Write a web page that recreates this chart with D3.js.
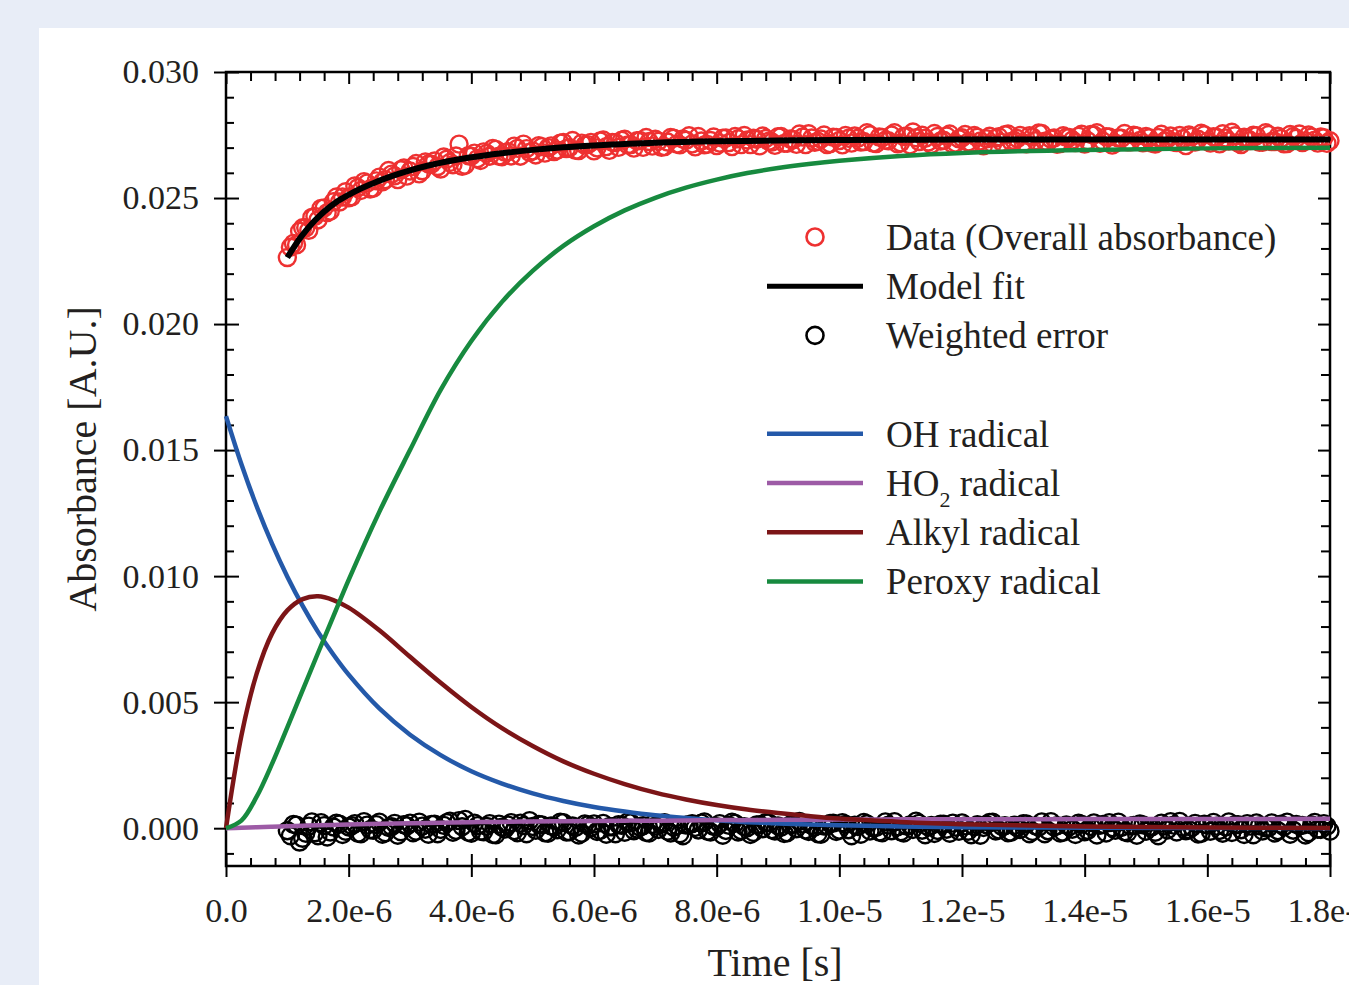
<!DOCTYPE html>
<html lang="en">
<head>
  <meta charset="UTF-8">
  <title>Absorbance trace</title>
  <style>
    body { margin: 0; background: #e8edf7; }
    svg { display: block; }
    text { font-family: 'Liberation Serif', 'Times New Roman', serif; fill: #231f20; }
  </style>
</head>
<body>
  <svg width="1349" height="985"></svg>
  <script src="https://d3js.org/d3.v7.min.js"></script>
  <script>

  // measured trace, time in microseconds (whole tenths)
  var sampleTimeUs = [
    1.0, 1.1, 1.2, 1.3, 1.4, 1.5, 1.6, 1.7, 1.8, 1.9,
    2.0, 2.1, 2.2, 2.3, 2.4, 2.5, 2.6, 2.7, 2.8, 2.9,
    3.0, 3.1, 3.2, 3.3, 3.4, 3.5, 3.6, 3.7, 3.8, 3.9,
    4.0, 4.1, 4.2, 4.3, 4.4, 4.5, 4.6, 4.7, 4.8, 4.9,
    5.0, 5.1, 5.2, 5.3, 5.4, 5.5, 5.6, 5.7, 5.8, 5.9,
    6.0, 6.1, 6.2, 6.3, 6.4, 6.5, 6.6, 6.7, 6.8, 6.9,
    7.0, 7.1, 7.2, 7.3, 7.4, 7.5, 7.6, 7.7, 7.8, 7.9,
    8.0, 8.1, 8.2, 8.3, 8.4, 8.5, 8.6, 8.7, 8.8, 8.9,
    9.0, 9.1, 9.2, 9.3, 9.4, 9.5, 9.6, 9.7, 9.8, 9.9,
    10.0, 10.1, 10.2, 10.3, 10.4, 10.5, 10.6, 10.7, 10.8, 10.9,
    11.0, 11.1, 11.2, 11.3, 11.4, 11.5, 11.6, 11.7, 11.8, 11.9,
    12.0, 12.1, 12.2, 12.3, 12.4, 12.5, 12.6, 12.7, 12.8, 12.9,
    13.0, 13.1, 13.2, 13.3, 13.4, 13.5, 13.6, 13.7, 13.8, 13.9,
    14.0, 14.1, 14.2, 14.3, 14.4, 14.5, 14.6, 14.7, 14.8, 14.9,
    15.0, 15.1, 15.2, 15.3, 15.4, 15.5, 15.6, 15.7, 15.8, 15.9,
    16.0, 16.1, 16.2, 16.3, 16.4, 16.5, 16.6, 16.7, 16.8, 16.9,
    17.0, 17.1, 17.2, 17.3, 17.4, 17.5, 17.6, 17.7, 17.8, 17.9,
    18.0
  ];

  var dataAbs = [
    0.02264, 0.02320, 0.02368, 0.02382, 0.02423, 0.02413, 0.02461, 0.02448, 0.02504, 0.02504,
    0.02501, 0.02548, 0.02530, 0.02559, 0.02539, 0.02583, 0.02573, 0.02595, 0.02573, 0.02619,
    0.02607, 0.02637, 0.02608, 0.02635, 0.02647, 0.02615, 0.02654, 0.02632, 0.02714, 0.02630,
    0.02666, 0.02656, 0.02683, 0.02666, 0.02693, 0.02664, 0.02684, 0.02706, 0.02666, 0.02696,
    0.02687, 0.02708, 0.02678, 0.02707, 0.02690, 0.02721, 0.02700, 0.02689, 0.02718, 0.02712,
    0.02687, 0.02726, 0.02704, 0.02721, 0.02701, 0.02733, 0.02712, 0.02727, 0.02701, 0.02724,
    0.02733, 0.02701, 0.02722, 0.02737, 0.02711, 0.02729, 0.02715, 0.02744, 0.02711, 0.02728,
    0.02708, 0.02737, 0.02720, 0.02744, 0.02712, 0.02730, 0.02737, 0.02707, 0.02736, 0.02722,
    0.02743, 0.02717, 0.02734, 0.02713, 0.02742, 0.02755, 0.02721, 0.02734, 0.02712, 0.02741,
    0.02728, 0.02748, 0.02718, 0.02737, 0.02724, 0.02751, 0.02716, 0.02740, 0.02727, 0.02759,
    0.02719, 0.02746, 0.02762, 0.02724, 0.02737, 0.02713, 0.02744, 0.02729, 0.02754, 0.02718,
    0.02739, 0.02722, 0.02748, 0.02726, 0.02735, 0.02715, 0.02743, 0.02751, 0.02724, 0.02736,
    0.02719, 0.02747, 0.02727, 0.02756, 0.02721, 0.02738, 0.02716, 0.02741, 0.02730, 0.02745,
    0.02714, 0.02752, 0.02759, 0.02725, 0.02742, 0.02718, 0.02737, 0.02723, 0.02749, 0.02728,
    0.02744, 0.02717, 0.02740, 0.02726, 0.02746, 0.02720, 0.02735, 0.02750, 0.02722, 0.02757,
    0.02725, 0.02743, 0.02715, 0.02738, 0.02761, 0.02719, 0.02741, 0.02728, 0.02747, 0.02721,
    0.02752, 0.02724, 0.02736, 0.02716, 0.02744, 0.02754, 0.02726, 0.02742, 0.02718, 0.02739,
    0.02727
  ];

  var errorAbs = [
    -0.00010, 0.00015, -0.00055, -0.00020, 0.00025, -0.00030, 0.00010, -0.00015, 0.00020, -0.00025,
    0.00005, 0.00018, -0.00022, 0.00012, -0.00008, 0.00024, -0.00018, 0.00006, -0.00028, 0.00014,
    0.00020, -0.00012, 0.00008, -0.00024, 0.00016, -0.00005, 0.00022, -0.00016, 0.00030, 0.00035,
    -0.00020, 0.00010, -0.00014, 0.00018, -0.00026, 0.00004, 0.00012, -0.00010, 0.00020, -0.00022,
    0.00007, 0.00015, -0.00018, 0.00009, -0.00006, 0.00022, -0.00014, 0.00003, -0.00020, 0.00013,
    0.00017, -0.00009, -0.00024, 0.00006, 0.00014, -0.00016, 0.00021, -0.00003, 0.00010, -0.00019,
    0.00008, 0.00016, -0.00012, 0.00004, -0.00022, 0.00012, 0.00018, -0.00007, 0.00025, -0.00015,
    0.00006, -0.00028, 0.00011, 0.00019, -0.00010, 0.00002, -0.00017, 0.00014, 0.00022, -0.00006,
    0.00009, -0.00021, 0.00013, -0.00002, 0.00017, -0.00013, 0.00005, -0.00024, 0.00010, 0.00020,
    -0.00008, 0.00015, -0.00030, 0.00007, 0.00023, -0.00011, 0.00003, -0.00018, 0.00012, 0.00026,
    -0.00014, 0.00008, -0.00005, 0.00019, -0.00026, 0.00011, -0.00009, 0.00016, -0.00020, 0.00004,
    0.00021, -0.00012, 0.00006, -0.00028, 0.00014, 0.00024, -0.00007, 0.00010, -0.00016, 0.00002,
    0.00018, -0.00022, 0.00009, 0.00025, -0.00010, 0.00005, -0.00019, 0.00013, -0.00004, 0.00020,
    -0.00014, 0.00007, -0.00027, 0.00015, 0.00022, -0.00008, 0.00003, -0.00018, 0.00011, 0.00017,
    -0.00012, 0.00006, -0.00030, 0.00009, 0.00026, -0.00015, 0.00004, -0.00006, 0.00019, -0.00021,
    0.00012, 0.00023, -0.00009, 0.00005, -0.00017, 0.00014, -0.00025, 0.00008, 0.00021, -0.00011,
    0.00002, -0.00019, 0.00016, 0.00024, -0.00008, 0.00010, -0.00027, 0.00013, -0.00004, 0.00018,
    -0.00012
  ];

  // the same trace, samples in between (half tenths)
  var sampleTimeUsMid = [
    1.05, 1.15, 1.25, 1.35, 1.45, 1.55, 1.65, 1.75, 1.85, 1.95,
    2.05, 2.15, 2.25, 2.35, 2.45, 2.55, 2.65, 2.75, 2.85, 2.95,
    3.05, 3.15, 3.25, 3.35, 3.45, 3.55, 3.65, 3.75, 3.85, 3.95,
    4.05, 4.15, 4.25, 4.35, 4.45, 4.55, 4.65, 4.75, 4.85, 4.95,
    5.05, 5.15, 5.25, 5.35, 5.45, 5.55, 5.65, 5.75, 5.85, 5.95,
    6.05, 6.15, 6.25, 6.35, 6.45, 6.55, 6.65, 6.75, 6.85, 6.95,
    7.05, 7.15, 7.25, 7.35, 7.45, 7.55, 7.65, 7.75, 7.85, 7.95,
    8.05, 8.15, 8.25, 8.35, 8.45, 8.55, 8.65, 8.75, 8.85, 8.95,
    9.05, 9.15, 9.25, 9.35, 9.45, 9.55, 9.65, 9.75, 9.85, 9.95,
    10.05, 10.15, 10.25, 10.35, 10.45, 10.55, 10.65, 10.75, 10.85, 10.95,
    11.05, 11.15, 11.25, 11.35, 11.45, 11.55, 11.65, 11.75, 11.85, 11.95,
    12.05, 12.15, 12.25, 12.35, 12.45, 12.55, 12.65, 12.75, 12.85, 12.95,
    13.05, 13.15, 13.25, 13.35, 13.45, 13.55, 13.65, 13.75, 13.85, 13.95,
    14.05, 14.15, 14.25, 14.35, 14.45, 14.55, 14.65, 14.75, 14.85, 14.95,
    15.05, 15.15, 15.25, 15.35, 15.45, 15.55, 15.65, 15.75, 15.85, 15.95,
    16.05, 16.15, 16.25, 16.35, 16.45, 16.55, 16.65, 16.75, 16.85, 16.95,
    17.05, 17.15, 17.25, 17.35, 17.45, 17.55, 17.65, 17.75, 17.85, 17.95
  ];

  var dataAbsMid = [
    0.02305, 0.02314, 0.02382, 0.02372, 0.02427, 0.02459, 0.02442, 0.02485, 0.02484, 0.02525,
    0.02505, 0.02541, 0.02565, 0.02536, 0.02568, 0.02564, 0.02609, 0.02588, 0.02612, 0.02587,
    0.02625, 0.02596, 0.02643, 0.02634, 0.02625, 0.02663, 0.02641, 0.02667, 0.02626, 0.02668,
    0.02678, 0.02649, 0.02677, 0.02697, 0.02666, 0.02681, 0.02667, 0.02697, 0.02714, 0.02681,
    0.02671, 0.02704, 0.02700, 0.02684, 0.02718, 0.02696, 0.02728, 0.02688, 0.02710, 0.02721,
    0.02699, 0.02730, 0.02689, 0.02720, 0.02729, 0.02711, 0.02698, 0.02728, 0.02740, 0.02706,
    0.02725, 0.02704, 0.02740, 0.02714, 0.02734, 0.02747, 0.02703, 0.02726, 0.02713, 0.02742,
    0.02718, 0.02738, 0.02704, 0.02735, 0.02748, 0.02712, 0.02733, 0.02746, 0.02725, 0.02709,
    0.02744, 0.02717, 0.02732, 0.02754, 0.02712, 0.02738, 0.02725, 0.02750, 0.02716, 0.02740,
    0.02711, 0.02737, 0.02746, 0.02722, 0.02759, 0.02718, 0.02742, 0.02729, 0.02750, 0.02715,
    0.02744, 0.02711, 0.02739, 0.02749, 0.02722, 0.02756, 0.02726, 0.02746, 0.02714, 0.02735,
    0.02752, 0.02718, 0.02741, 0.02707, 0.02745, 0.02737, 0.02721, 0.02754, 0.02728, 0.02748,
    0.02715, 0.02742, 0.02758, 0.02725, 0.02734, 0.02713, 0.02747, 0.02740, 0.02720, 0.02753,
    0.02727, 0.02750, 0.02717, 0.02743, 0.02710, 0.02738, 0.02756, 0.02723, 0.02746, 0.02719,
    0.02739, 0.02714, 0.02753, 0.02735, 0.02722, 0.02748, 0.02708, 0.02744, 0.02733, 0.02751,
    0.02718, 0.02741, 0.02755, 0.02726, 0.02747, 0.02712, 0.02736, 0.02749, 0.02721, 0.02759,
    0.02724, 0.02745, 0.02715, 0.02752, 0.02737, 0.02720, 0.02750, 0.02729, 0.02742, 0.02717
  ];

  var errorAbsMid = [
    -0.00030, 0.00012, -0.00040, 0.00008, -0.00018, 0.00022, -0.00035, 0.00005, 0.00016, -0.00012,
    0.00010, -0.00020, 0.00026, -0.00006, 0.00014, -0.00024, 0.00003, 0.00019, -0.00014, 0.00009,
    -0.00018, 0.00024, -0.00004, 0.00015, -0.00022, 0.00011, 0.00028, -0.00009, 0.00006, -0.00016,
    0.00020, -0.00012, 0.00007, -0.00025, 0.00016, -0.00003, 0.00022, -0.00018, 0.00010, 0.00030,
    -0.00008, 0.00013, -0.00020, 0.00005, 0.00024, -0.00015, 0.00009, -0.00027, 0.00017, 0.00002,
    -0.00013, 0.00019, 0.00006, -0.00022, 0.00011, 0.00025, -0.00010, 0.00004, -0.00017, 0.00015,
    -0.00005, 0.00022, -0.00019, 0.00010, -0.00030, 0.00014, 0.00003, 0.00020, -0.00012, 0.00007,
    0.00018, -0.00009, 0.00024, -0.00015, 0.00006, -0.00025, 0.00013, -0.00002, 0.00021, -0.00011,
    0.00004, -0.00018, 0.00015, 0.00027, -0.00007, 0.00011, -0.00022, 0.00008, 0.00019, -0.00013,
    0.00022, -0.00006, 0.00012, -0.00024, 0.00017, 0.00002, -0.00015, 0.00025, -0.00010, 0.00006,
    -0.00019, 0.00013, 0.00028, -0.00008, 0.00005, -0.00021, 0.00016, -0.00004, 0.00020, -0.00012,
    0.00009, -0.00026, 0.00014, 0.00003, 0.00023, -0.00011, 0.00007, -0.00018, 0.00012, -0.00005,
    0.00017, -0.00013, 0.00004, -0.00022, 0.00026, 0.00010, -0.00016, 0.00006, -0.00025, 0.00015,
    -0.00009, 0.00021, 0.00011, -0.00019, 0.00002, 0.00024, -0.00014, 0.00008, -0.00028, 0.00013,
    0.00005, -0.00016, 0.00020, -0.00007, 0.00012, 0.00027, -0.00010, 0.00003, -0.00023, 0.00016,
    -0.00012, 0.00008, -0.00020, 0.00025, 0.00014, -0.00006, 0.00018, -0.00026, 0.00009, 0.00002,
    0.00021, -0.00010, 0.00006, -0.00024, 0.00015, 0.00011, -0.00018, 0.00023, -0.00005, 0.00008
  ];

  // model fit through the trace
  var fitTimeUs = [1.0, 1.1, 1.2, 1.3, 1.4, 1.5, 1.6, 1.8, 2.0, 2.2, 2.4, 2.6, 2.8, 3.0, 3.3, 3.6,
    4.0, 4.5, 5.0, 5.5, 6.0, 7.0, 8.0, 9.0, 10, 12, 14, 16, 18];
  var fitAbs = [0.02264, 0.02302, 0.02338, 0.02370, 0.02398, 0.02423, 0.02446, 0.02484, 0.02513,
    0.02538, 0.02559, 0.02578, 0.02595, 0.02610, 0.02629, 0.02645, 0.02662, 0.02678, 0.02691,
    0.02701, 0.02708, 0.02719, 0.02725, 0.02728, 0.02730, 0.02732, 0.02732, 0.02732, 0.02732];

  // species contributions
  var speciesTimeUs = [0, 0.25, 0.5, 0.75, 1, 1.25, 1.5, 1.75, 2, 2.5, 3, 3.5, 4, 4.5, 5,
    5.5, 6, 6.5, 7, 7.5, 8, 8.5, 9, 9.5, 10, 11, 12, 14, 16, 18];
  var ohAbs = [0.01635, 0.01445, 0.01277, 0.01129, 0.00998, 0.00882, 0.00779, 0.00689, 0.00609,
    0.00475, 0.00371, 0.00290, 0.00226, 0.00177, 0.00138, 0.00108, 0.00084, 0.00066, 0.00051,
    0.00040, 0.00031, 0.00024, 0.00019, 0.00015, 0.00012, 0.00007, 0.00004, 0.00002, 0.00001, 0.00000];
  var ho2Abs = [0, 0.00002, 0.00004, 0.00006, 0.00008, 0.00010, 0.00012, 0.00013, 0.00015,
    0.00018, 0.00020, 0.00022, 0.00024, 0.00025, 0.00027, 0.00028, 0.00029, 0.00030, 0.00030,
    0.00031, 0.00032, 0.00032, 0.00033, 0.00033, 0.00034, 0.00035, 0.00035, 0.00036, 0.00036, 0.00037];
  var alkylAbs = [0, 0.00366, 0.00613, 0.00772, 0.00864, 0.00909, 0.00920, 0.00905, 0.00875,
    0.00785, 0.00680, 0.00577, 0.00481, 0.00397, 0.00326, 0.00265, 0.00216, 0.00175, 0.00141,
    0.00114, 0.00092, 0.00074, 0.00060, 0.00048, 0.00038, 0.00025, 0.00016, 0.00007, 0.00003, 0.00001];
  var peroxyAbs = [0, 0.00030, 0.00125, 0.00255, 0.00400, 0.00548, 0.00695, 0.00840, 0.00985,
    0.01255, 0.01500, 0.01739, 0.01933, 0.02088, 0.02211, 0.02310, 0.02388, 0.02451, 0.02501,
    0.02541, 0.02573, 0.02599, 0.02619, 0.02635, 0.02648, 0.02667, 0.02679, 0.02691, 0.02697, 0.02699];

  var xTicks = [0, 2e-6, 4e-6, 6e-6, 8e-6, 1e-5, 1.2e-5, 1.4e-5, 1.6e-5, 1.8e-5];
  var xTickLabels = ['0.0', '2.0e-6', '4.0e-6', '6.0e-6', '8.0e-6', '1.0e-5', '1.2e-5', '1.4e-5', '1.6e-5', '1.8e-5'];
  var yTicks = [0, 0.005, 0.010, 0.015, 0.020, 0.025, 0.030];
  var yTickLabels = ['0.000', '0.005', '0.010', '0.015', '0.020', '0.025', '0.030'];

  var svg = d3.select('svg');

  svg.append('rect')
    .attr('x', 39).attr('y', 28)
    .attr('width', 1310).attr('height', 957)
    .attr('fill', '#fff');

  var x = d3.scaleLinear().domain([0, 1.8e-5]).range([226, 1330]);
  var y = d3.scaleLinear().domain([-0.0015, 0.030]).range([866, 72]);

  var xMinor = d3.range(0, 46).filter(function(i) { return i % 5 !== 0; })
    .map(function(i) { return i * 4e-7; });
  var yMinor = d3.range(-1, 31).filter(function(i) { return i % 5 !== 0; })
    .map(function(i) { return i * 0.001; });

  function styleAxis(g) {
    g.select('.domain').remove();
    g.selectAll('line').attr('stroke', '#000').attr('stroke-width', 2);
    g.attr('font-family', "'Liberation Serif', 'Times New Roman', serif").attr('font-size', 34);
    g.selectAll('text').attr('fill', '#231f20');
  }

  function noLabel() { return ''; }

  // bottom axis: labels and outer half of majors, inner half, minors
  svg.append('g').attr('transform', 'translate(0,866)')
    .call(d3.axisBottom(x).tickValues(xTicks)
      .tickFormat(function(d, i) { return xTickLabels[i]; })
      .tickSize(11).tickPadding(21))
    .call(styleAxis);
  svg.append('g').attr('transform', 'translate(0,866)')
    .call(d3.axisBottom(x).tickValues(xTicks).tickFormat(noLabel).tickSize(-12))
    .call(styleAxis);
  svg.append('g').attr('transform', 'translate(0,866)')
    .call(d3.axisBottom(x).tickValues(xMinor).tickFormat(noLabel).tickSize(-8))
    .call(styleAxis);

  // top axis, inward ticks only
  svg.append('g').attr('transform', 'translate(0,72)')
    .call(d3.axisTop(x).tickValues(xTicks).tickFormat(noLabel).tickSize(-12))
    .call(styleAxis);
  svg.append('g').attr('transform', 'translate(0,72)')
    .call(d3.axisTop(x).tickValues(xMinor).tickFormat(noLabel).tickSize(-9))
    .call(styleAxis);

  // left axis
  svg.append('g').attr('transform', 'translate(226,0)')
    .call(d3.axisLeft(y).tickValues(yTicks)
      .tickFormat(function(d, i) { return yTickLabels[i]; })
      .tickSize(12).tickPadding(15))
    .call(styleAxis);
  svg.append('g').attr('transform', 'translate(226,0)')
    .call(d3.axisLeft(y).tickValues(yTicks).tickFormat(noLabel).tickSize(-13))
    .call(styleAxis);
  svg.append('g').attr('transform', 'translate(226,0)')
    .call(d3.axisLeft(y).tickValues(yMinor).tickFormat(noLabel).tickSize(-8))
    .call(styleAxis);

  // right axis, inward ticks only
  svg.append('g').attr('transform', 'translate(1330,0)')
    .call(d3.axisRight(y).tickValues(yTicks).tickFormat(noLabel).tickSize(-12))
    .call(styleAxis);
  svg.append('g').attr('transform', 'translate(1330,0)')
    .call(d3.axisRight(y).tickValues(yMinor).tickFormat(noLabel).tickSize(-9))
    .call(styleAxis);

  svg.append('rect')
    .attr('x', x(0)).attr('y', y(0.030))
    .attr('width', x(1.8e-5) - x(0)).attr('height', y(-0.0015) - y(0.030))
    .attr('fill', 'none').attr('stroke', '#000').attr('stroke-width', 2.5);

  var colors = {
    data: '#ee3131',
    fit: '#000',
    error: '#000',
    oh: '#2459a9',
    ho2: '#9d5ba6',
    alkyl: '#7c1517',
    peroxy: '#178a3f'
  };

  function zip(times, values) {
    return times.map(function(t, i) { return { t: t * 1e-6, v: values[i] }; });
  }

  var errorPoints = zip(sampleTimeUs, errorAbs).concat(zip(sampleTimeUsMid, errorAbsMid));
  var dataPoints = zip(sampleTimeUs, dataAbs).concat(zip(sampleTimeUsMid, dataAbsMid));

  var g = svg.append('g');

  // weighted error and data circles
  g.selectAll('circle.err')
    .data(errorPoints)
    .enter().append('circle')
    .attr('class', 'err')
    .attr('cx', function(d) { return x(d.t); })
    .attr('cy', function(d) { return y(d.v); })
    .attr('r', 8.5)
    .attr('fill', 'none').attr('stroke', colors.error).attr('stroke-width', 2.4);

  g.selectAll('circle.dat')
    .data(dataPoints)
    .enter().append('circle')
    .attr('class', 'dat')
    .attr('cx', function(d) { return x(d.t); })
    .attr('cy', function(d) { return y(d.v); })
    .attr('r', 8.5)
    .attr('fill', 'none').attr('stroke', colors.data).attr('stroke-width', 2.4);

  var line = d3.line()
    .x(function(d) { return x(d.t); })
    .y(function(d) { return y(d.v); })
    .curve(d3.curveCatmullRom.alpha(0.5));

  [['oh', ohAbs], ['ho2', ho2Abs], ['alkyl', alkylAbs], ['peroxy', peroxyAbs]].forEach(function(s) {
    g.append('path')
      .attr('d', line(zip(speciesTimeUs, s[1])))
      .attr('fill', 'none')
      .attr('stroke', colors[s[0]])
      .attr('stroke-width', 4.5);
  });

  g.append('path')
    .attr('d', line(zip(fitTimeUs, fitAbs)))
    .attr('fill', 'none')
    .attr('stroke', colors.fit)
    .attr('stroke-width', 6);

  // legend
  var legendRows = [
    { key: 'data', label: 'Data (Overall absorbance)', mark: 'circle', row: 0 },
    { key: 'fit', label: 'Model fit', mark: 'line', row: 1 },
    { key: 'error', label: 'Weighted error', mark: 'circle', row: 2 },
    { key: 'oh', label: 'OH radical', mark: 'line', row: 4 },
    { key: 'ho2', label: 'HO', sub: '2', rest: ' radical', mark: 'line', row: 5 },
    { key: 'alkyl', label: 'Alkyl radical', mark: 'line', row: 6 },
    { key: 'peroxy', label: 'Peroxy radical', mark: 'line', row: 7 }
  ];

  var legend = svg.append('g');

  legendRows.forEach(function(d) {
    var cy = 237 + 49.2 * d.row;
    if (d.mark === 'circle') {
      legend.append('circle')
        .attr('cx', 815).attr('cy', cy).attr('r', 8.5)
        .attr('fill', 'none').attr('stroke', colors[d.key]).attr('stroke-width', 2.6);
    } else {
      legend.append('line')
        .attr('x1', 767).attr('x2', 863).attr('y1', cy).attr('y2', cy)
        .attr('stroke', colors[d.key]).attr('stroke-width', d.key === 'fit' ? 5 : 4.5);
    }
    var t = legend.append('text')
      .attr('x', 886).attr('y', cy + 13)
      .attr('font-size', 37);
    t.append('tspan').text(d.label);
    if (d.sub) {
      t.append('tspan').attr('font-size', 22).attr('dy', 11).text(d.sub);
      t.append('tspan').attr('dy', -11).text(d.rest);
    }
  });

  // axis titles
  svg.append('text')
    .attr('x', (x(0) + x(1.8e-5)) / 2 - 3).attr('y', 976)
    .attr('text-anchor', 'middle')
    .attr('font-size', 40)
    .text('Time [s]');

  svg.append('text')
    .attr('transform', 'translate(96,459) rotate(-90)')
    .attr('text-anchor', 'middle')
    .attr('font-size', 40)
    .text('Absorbance [A.U.]');

  </script>
</body>
</html>
